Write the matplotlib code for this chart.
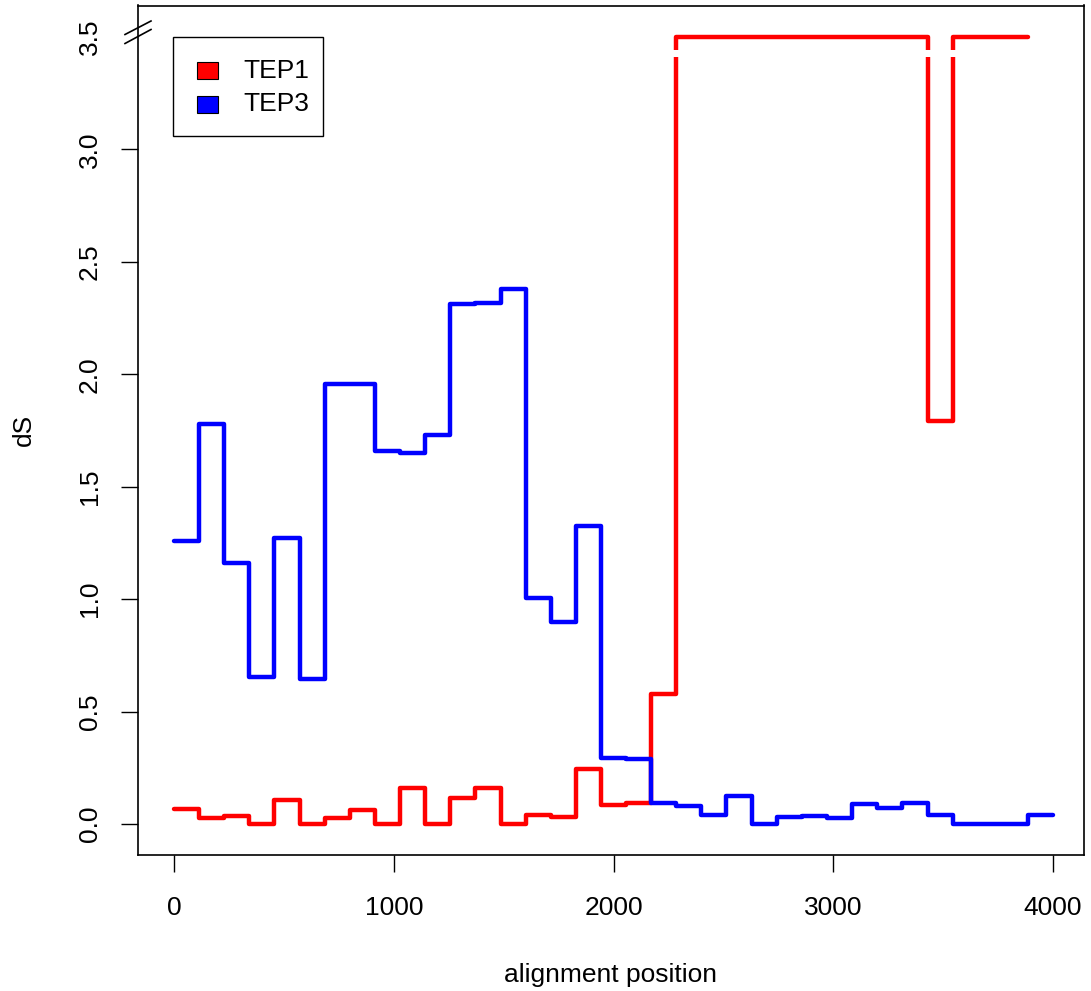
import numpy as np
import matplotlib
matplotlib.use('Agg')
import matplotlib.pyplot as plt
from matplotlib.patches import Rectangle
from matplotlib.lines import Line2D

plt.rcParams['font.family'] = ['Liberation Sans', 'DejaVu Sans']

# ── Data ───────────────────────────────────────────────────────────────────────
# window start positions along the alignment (last entry = end of final window)
POSITIONS = [0, 114, 229, 343, 457, 571, 686, 800, 914, 1029, 1143, 1257,
             1371, 1486, 1600, 1714, 1829, 1943, 2057, 2171, 2286, 2400,
             2514, 2629, 2743, 2857, 2971, 3086, 3200, 3314, 3429, 3543,
             3657, 3771, 3886, 4000]

# TEP1 dS (values above the break are shown at the cap, 3.5)
TEP1_DS = [0.065, 0.025, 0.035, 0.0, 0.107, 0.0, 0.025, 0.062, 0.0, 0.159,
           0.0, 0.114, 0.159, 0.0, 0.040, 0.033, 0.243, 0.084, 0.092, 0.578,
           3.5, 3.5, 3.5, 3.5, 3.5, 3.5, 3.5, 3.5, 3.5, 3.5,
           1.79, 3.5, 3.5, 3.5, 3.5]

TEP3_DS = [1.26, 1.78, 1.16, 0.655, 1.27, 0.643, 1.956, 1.956, 1.659, 1.652,
           1.73, 2.311, 2.316, 2.378, 1.006, 0.899, 1.324, 0.292, 0.288, 0.095,
           0.080, 0.038, 0.124, 0.0, 0.029, 0.036, 0.028, 0.089, 0.070, 0.095,
           0.039, 0.0, 0.0, 0.0, 0.040, 0.040]

SERIES = [('TEP1', TEP1_DS, '#FF0000'), ('TEP3', TEP3_DS, '#0000FF')]

X_TICKS = [0, 1000, 2000, 3000, 4000]
Y_TICKS = [0.0, 0.5, 1.0, 1.5, 2.0, 2.5, 3.0, 3.5]
BREAK_LO, BREAK_HI = 3.41, 3.44

FS = 19

# ── Figure ─────────────────────────────────────────────────────────────────────
W, H = 1091, 991
fig = plt.figure(figsize=(W / 100, H / 100), dpi=100)
fig.patch.set_facecolor('white')

def fx(px): return px / W
def fy(py): return 1 - py / H

L, R, T, B = 138, 1084, 5.5, 855
ax = fig.add_axes([fx(L), fy(B), fx(R) - fx(L), fy(T) - fy(B)])

for name, vals, col in SERIES:
    xs = POSITIONS[:len(vals)]
    ax.step(xs, vals, where='post', color=col, lw=3.2,
            solid_capstyle='round', solid_joinstyle='round', zorder=2)

# white gap marking the axis break
ax.axhspan(BREAK_LO, BREAK_HI, color='white', lw=0, zorder=2.2)

ax.set_xlim(-164, 4141)
ax.set_ylim(-0.138, 3.64)
ax.set_xticks(X_TICKS)
ax.set_xticklabels([str(v) for v in X_TICKS])
ax.set_yticks(Y_TICKS)
ax.set_yticklabels([f'{v:.1f}' for v in Y_TICKS], rotation=90, va='center')
ax.yaxis.get_major_ticks()[-1].tick1line.set_visible(False)

ax.tick_params(axis='both', length=12.2, width=1.0, labelsize=FS,
               color='black', direction='out')
ax.tick_params(axis='x', pad=17)
ax.tick_params(axis='y', pad=14)
for sp in ax.spines.values():
    sp.set_linewidth(1.2)
    sp.set_color('black')

ax.set_xlabel('alignment position', fontsize=FS, labelpad=31)
ax.set_ylabel('dS', fontsize=FS, labelpad=30)

# break marks on the y axis
for y0, y1 in [(43.5, 29.5), (34.5, 21)]:
    fig.add_artist(Line2D([fx(125), fx(151)], [fy(y0), fy(y1)],
                          color='black', lw=1.2))

# ── Legend (drawn by hand, R style) ───────────────────────────────────────────
fig.add_artist(Rectangle((fx(173), fy(136)), fx(323) - fx(173), fy(37) - fy(136),
                         transform=fig.transFigure, facecolor='white',
                         edgecolor='black', lw=1.0, zorder=5))
for i, (name, vals, col) in enumerate(SERIES):
    yc = 70.5 + i * 33.5
    fig.add_artist(Rectangle((fx(197), fy(yc + 8.5)), fx(218) - fx(197), fy(yc - 8.5) - fy(yc + 8.5),
                             transform=fig.transFigure, facecolor=col,
                             edgecolor='black', lw=0.8, zorder=6))
    fig.text(fx(243), fy(yc), name, fontsize=FS, ha='left', va='center', zorder=6)

fig.savefig('out.png', dpi=100, facecolor='white')
